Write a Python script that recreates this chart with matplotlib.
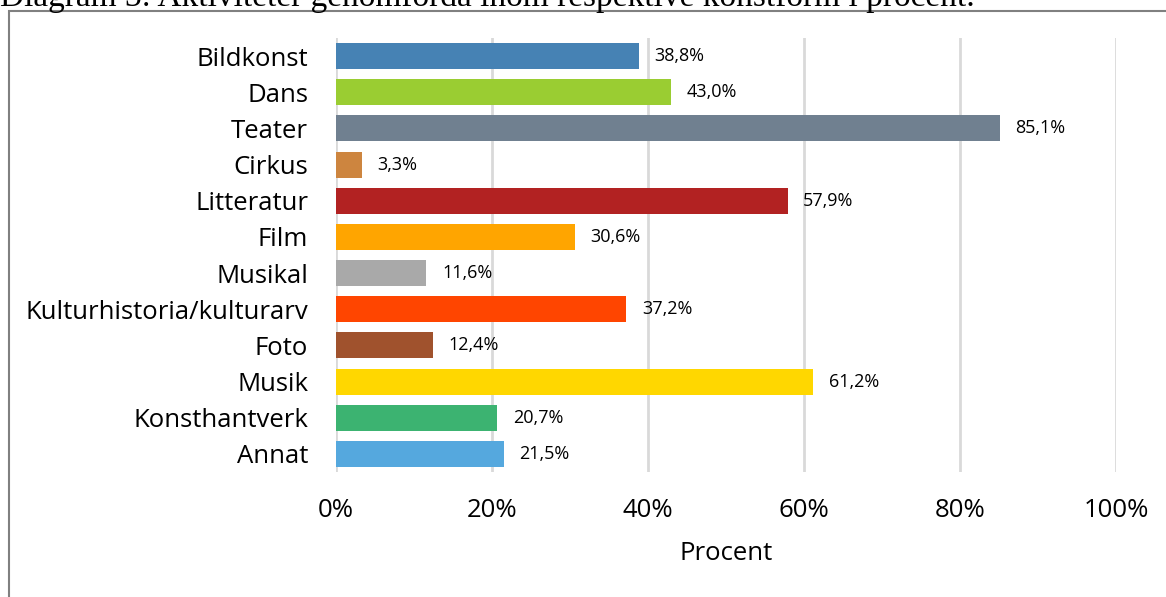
import matplotlib
matplotlib.use("Agg")
import matplotlib.pyplot as plt
from matplotlib.patches import Rectangle

plt.rcParams['font.family'] = ['Open Sans', 'DejaVu Sans']

categories = ['Bildkonst', 'Dans', 'Teater', 'Cirkus', 'Litteratur', 'Film', 'Musikal',
              'Kulturhistoria/kulturarv', 'Foto', 'Musik', 'Konsthantverk', 'Annat']
values = [38.8, 43.0, 85.1, 3.3, 57.9, 30.6, 11.6, 37.2, 12.4, 61.2, 20.7, 21.5]
colors = ['#4682B4', '#9ACD32', '#708090', '#CD853F', '#B22222', '#FFA500', '#A9A9A9',
          '#FF4500', '#A0522D', '#FFD700', '#3CB371', '#55A8DE']
xticks = [0, 20, 40, 60, 80, 100]

fig = plt.figure(figsize=(11.66, 5.97), dpi=100)
ax = fig.add_axes([336 / 1166, 1 - 472 / 597, 780 / 1166, 434 / 597])

ypos = list(range(len(categories)))
ax.barh(ypos, values, height=0.72, color=colors, zorder=3)
for y, v in zip(ypos, values):
    ax.text(v + 2.0, y, f"{v:.1f}%".replace('.', ','), va='center', ha='left',
            fontsize=13, color='#000000')

ax.set_xlim(0, 100)
ax.set_ylim(len(categories) - 0.5, -0.5)
ax.set_yticks(ypos)
ax.set_yticklabels(categories, fontsize=18.5)
ax.set_xticks(xticks)
ax.set_xticklabels([f"{t}%" for t in xticks], fontsize=18.5)
ax.tick_params(length=0)
ax.tick_params(axis='y', pad=20)
ax.tick_params(axis='x', pad=19)
ax.xaxis.grid(True, color='#D9D9D9', linewidth=2, zorder=0)
ax.set_axisbelow(True)
for s in ax.spines.values():
    s.set_visible(False)
ax.set_xlabel('Procent', fontsize=18.5, labelpad=13)

# border of the embedded chart
fig.patches.append(Rectangle((9 / 1166, -0.1), 1.2, 1 - 11 / 597 + 0.1,
                             transform=fig.transFigure, fill=False,
                             edgecolor='#808080', linewidth=1.5))
fig.text(0.0, 1 - 6 / 597, 'Diagram 3: Aktiviteter genomförda inom respektive konstform i procent.',
         fontsize=24, family='Liberation Serif', va='baseline', ha='left')

fig.savefig('out.png', dpi=100)
